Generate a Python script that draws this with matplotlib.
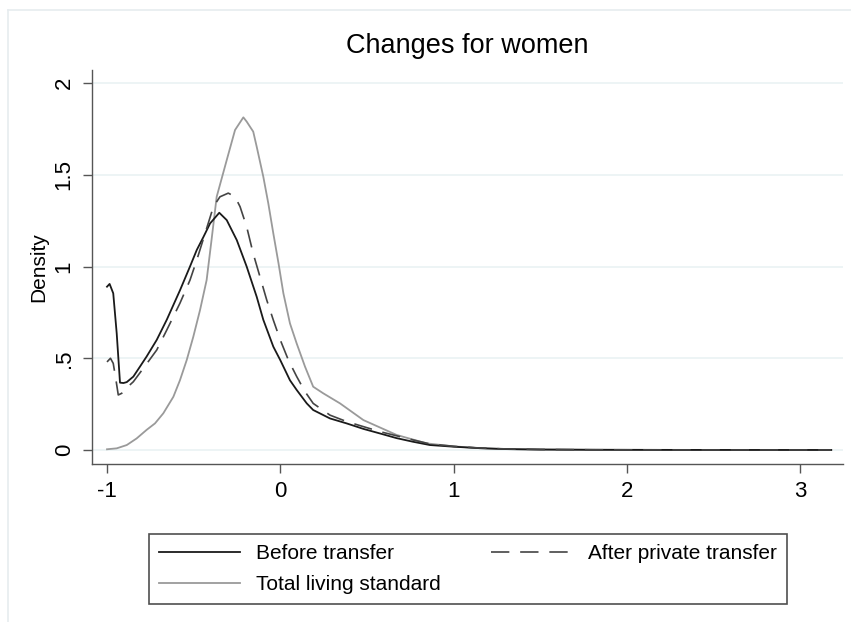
import matplotlib
matplotlib.use("Agg")
import matplotlib.pyplot as plt
from matplotlib.lines import Line2D

plt.rcParams['font.family'] = ['Liberation Sans', 'DejaVu Sans']

# ---- data ----
title = "Changes for women"
ylabel = "Density"
legend_labels = ["Before transfer", "After private transfer", "Total living standard"]

before_x = [-1.00, -0.985, -0.964, -0.944, -0.925, -0.905, -0.886, -0.848, -0.81, -0.771,
            -0.713, -0.655, -0.579, -0.521, -0.482, -0.444, -0.405, -0.352, -0.309, -0.251,
            -0.194, -0.136, -0.098, -0.04, 0.0, 0.056, 0.095, 0.153, 0.19, 0.287, 0.383,
            0.48, 0.576, 0.67, 0.766, 0.864, 1.0, 1.15, 1.3, 1.5, 1.8, 2.2, 2.7, 3.18]
before_y = [0.89, 0.905, 0.854, 0.636, 0.367, 0.365, 0.37, 0.40, 0.454, 0.51,
            0.60, 0.71, 0.87, 1.0, 1.09, 1.16, 1.235, 1.293, 1.253, 1.144,
            1.0, 0.835, 0.71, 0.563, 0.49, 0.38, 0.327, 0.254, 0.218, 0.172, 0.145,
            0.115, 0.09, 0.065, 0.045, 0.027, 0.018, 0.01, 0.005, 0.0025, 0.0012, 0.0006, 0.0003, 0.0002]

after_x = [-1.00, -0.98, -0.964, -0.948, -0.935, -0.915, -0.90, -0.848, -0.771, -0.713,
           -0.655, -0.579, -0.521, -0.482, -0.434, -0.386, -0.348, -0.30, -0.261, -0.232,
           -0.194, -0.156, -0.117, -0.078, -0.04, 0.0, 0.047, 0.095, 0.143, 0.19, 0.287,
           0.383, 0.576, 0.766, 0.864, 1.0, 1.15, 1.3, 1.5, 1.8, 2.2, 2.7, 3.18]
after_y = [0.48, 0.50, 0.472, 0.38, 0.30, 0.309, 0.327, 0.372, 0.47, 0.545,
           0.654, 0.80, 0.926, 1.035, 1.18, 1.326, 1.38, 1.40, 1.38, 1.326,
           1.217, 1.07, 0.944, 0.817, 0.708, 0.60, 0.49, 0.40, 0.318, 0.254, 0.19,
           0.155, 0.10, 0.055, 0.033, 0.02, 0.011, 0.006, 0.003, 0.0013, 0.0006, 0.0003, 0.0002]

total_x = [-1.00, -0.944, -0.886, -0.829, -0.771, -0.723, -0.675, -0.617, -0.579, -0.54,
           -0.502, -0.463, -0.425, -0.396, -0.367, -0.309, -0.261, -0.213, -0.194, -0.156,
           -0.136, -0.098, -0.069, -0.04, -0.01, 0.018, 0.056, 0.095, 0.143, 0.19, 0.248,
           0.345, 0.48, 0.672, 0.845, 1.0, 1.15, 1.3, 1.5, 1.8, 2.2, 2.7, 3.18]
total_y = [0.004, 0.009, 0.027, 0.063, 0.11, 0.145, 0.20, 0.29, 0.38, 0.49,
           0.617, 0.763, 0.926, 1.15, 1.38, 1.58, 1.744, 1.813, 1.79, 1.735,
           1.653, 1.49, 1.344, 1.18, 1.017, 0.854, 0.69, 0.58, 0.454, 0.345, 0.309,
           0.254, 0.163, 0.082, 0.036, 0.02, 0.01, 0.005, 0.0025, 0.0012, 0.0006, 0.0003, 0.0002]

xticks = [-1, 0, 1, 2, 3]
xticklabels = ["-1", "0", "1", "2", "3"]
yticks = [0, 0.5, 1, 1.5, 2]
yticklabels = ["0", ".5", "1", "1.5", "2"]

# ---- figure ----
W, H = 851, 622
fig = plt.figure(figsize=(W / 100, H / 100), dpi=100)
fig.patch.set_facecolor("white")

# faint outer frame of the graph region
fig.add_artist(Line2D([8 / W, 8 / W], [0, 1 - 10 / H], transform=fig.transFigure,
                      color="#e6ecef", lw=1.2))
fig.add_artist(Line2D([8 / W, 1], [1 - 10 / H, 1 - 10 / H], transform=fig.transFigure,
                      color="#e6ecef", lw=1.2))

ax = fig.add_axes([92 / W, 1 - 464 / H, (843 - 92) / W, (464 - 70) / H])
ax.set_xlim(-1.0866, 3.248)
ax.set_ylim(-0.0763, 2.071)

for y in yticks:
    ax.axhline(y, color="#eaf2f3", lw=1.2, zorder=0)

l1, = ax.plot(before_x, before_y, color="#1a1a1a", lw=1.3, zorder=3)
l2, = ax.plot(after_x, after_y, color="#444444", lw=1.2, dashes=(11, 6.5), zorder=4)
l3, = ax.plot(total_x, total_y, color="#9a9a9a", lw=1.3, zorder=2)

for s in ["top", "right"]:
    ax.spines[s].set_visible(False)
for s in ["left", "bottom"]:
    ax.spines[s].set_color("#555555")
    ax.spines[s].set_linewidth(1.0)

ax.set_xticks(xticks, xticklabels)
ax.set_yticks(yticks, yticklabels)
ax.tick_params(axis="both", direction="out", length=6.5, width=1.0, color="#555555",
               labelsize=16, pad=6)
for lab in ax.get_yticklabels():
    lab.set_rotation(90)
    lab.set_va("center")

ax.set_title(title, fontsize=19.5, pad=12)
ax.set_ylabel(ylabel, fontsize=15)
ax.yaxis.set_label_coords(-0.058, 0.5)

leg = fig.legend([l1, l3, l2], [legend_labels[0], legend_labels[2], legend_labels[1]],
                 ncol=2, mode="expand", loc="upper left",
                 bbox_to_anchor=(149 / W, 1 - 606 / H, 638 / W, 72 / H),
                 fontsize=15, handlelength=3.85, handletextpad=0.77,
                 borderpad=0.5, labelspacing=0.55, borderaxespad=0,
                 fancybox=False, frameon=True)
leg.get_frame().set_edgecolor("#222222")
leg.get_frame().set_linewidth(1.2)

fig.savefig("out.png", dpi=100, facecolor="white")
